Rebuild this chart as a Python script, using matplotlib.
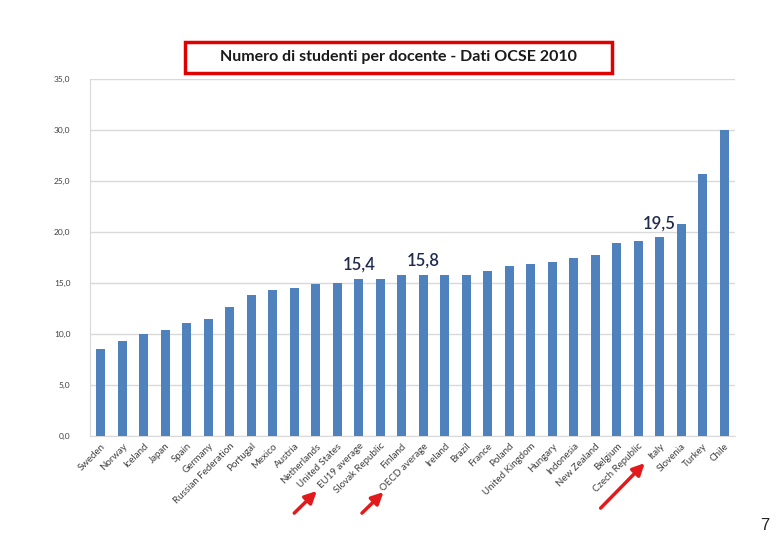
import numpy as np
import matplotlib
matplotlib.use('Agg')
import matplotlib.pyplot as plt
from matplotlib.patches import Rectangle

paesi = ['Sweden', 'Norway', 'Iceland', 'Japan', 'Spain', 'Germany',
         'Russian Federation', 'Portugal', 'Mexico', 'Austria', 'Netherlands',
         'United States', 'EU19 average', 'Slovak Republic', 'Finland',
         'OECD average', 'Ireland', 'Brazil', 'France', 'Poland',
         'United Kingdom', 'Hungary', 'Indonesia', 'New Zealand', 'Belgium',
         'Czech Republic', 'Italy', 'Slovenia', 'Turkey', 'Chile']
studenti = [8.5, 9.3, 10.0, 10.4, 11.1, 11.5, 12.6, 13.8, 14.3, 14.5, 14.9,
            15.0, 15.4, 15.4, 15.8, 15.8, 15.8, 15.8, 16.2, 16.7, 16.9, 17.1,
            17.5, 17.7, 18.9, 19.1, 19.5, 20.8, 25.7, 30.0]
evidenziati = ['EU19 average', 'OECD average', 'Italy']
y_ticks = np.arange(0, 36, 5)

plt.rcParams['font.family'] = ['Lato', 'DejaVu Sans']

fig = plt.figure(figsize=(7.8, 5.4), dpi=100)
ax = fig.add_axes([90/780, 104/540, 645/780, 357/540])

x = np.arange(len(paesi))
ax.bar(x, studenti, width=0.4, color='#4f81bd', zorder=3)

ax.set_xlim(-0.5, len(paesi) - 0.5)
ax.set_ylim(0, 35)
ax.set_yticks(y_ticks)
ax.set_yticklabels([f'{v:.1f}'.replace('.', ',') for v in y_ticks],
                   fontsize=6, color='#404040')
ax.set_xticks(x)
ax.set_xticklabels(paesi, rotation=45, ha='right', rotation_mode='anchor',
                   fontsize=7, color='#404040')
ax.tick_params(axis='y', length=0, pad=14)
ax.tick_params(axis='x', length=0, pad=4)
ax.grid(axis='y', color='#d9d9d9', linewidth=1, zorder=0)
for s in ['top', 'right']:
    ax.spines[s].set_visible(False)
for s in ['left', 'bottom']:
    ax.spines[s].set_color('#d9d9d9')

# etichette sui valori evidenziati
for nome in evidenziati:
    i = paesi.index(nome)
    ax.annotate(f'{studenti[i]:.1f}'.replace('.', ','), (i, studenti[i]),
                xytext=(0, 14), textcoords='offset pixels', ha='center',
                va='center', fontsize=12, fontweight='semibold',
                color='#1f2a4d')

# frecce rosse verso le etichette
frecce = {'EU19 average': (-3.0, -0.216, -1.95, -0.154),
          'OECD average': (-2.85, -0.216, -1.85, -0.157),
          'Italy': (-2.75, -0.202, -0.7, -0.076)}
for nome, (dx0, y0, dx1, y1) in frecce.items():
    i = paesi.index(nome)
    ax.annotate('', xy=(i + dx1, y1), xycoords=('data', 'axes fraction'),
                xytext=(i + dx0, y0), textcoords=('data', 'axes fraction'),
                arrowprops=dict(arrowstyle='-|>,head_length=0.7,head_width=0.35',
                                color='#e31a1c', lw=2.5, shrinkA=0, shrinkB=0),
                annotation_clip=False)

# titolo nel riquadro rosso
fig.patches.append(Rectangle((185/780, 1 - 73/540), 427/780, 31/540,
                             transform=fig.transFigure, fill=False,
                             edgecolor='#e00000', linewidth=2.5))
fig.text(398/780, 1 - 57/540, 'Numero di studenti per docente - Dati OCSE 2010',
         ha='center', va='center', fontsize=11.5, fontweight='bold',
         color='#1a1a1a')

fig.text(765/780, 1 - 526/540, '7', ha='center', va='center', fontsize=12,
         family='Liberation Sans', color='#222222')

fig.savefig('out.png', dpi=100)
